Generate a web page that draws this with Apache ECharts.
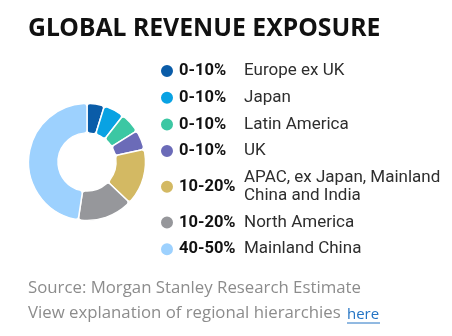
<!DOCTYPE html>
<html>
<head>
<meta charset="utf-8">
<script src="https://cdn.jsdelivr.net/npm/echarts@6/dist/echarts.min.js"></script>
<style>
  html, body { margin: 0; padding: 0; background: #fff; }
  #chart { width: 452px; height: 336px; }
</style>
</head>
<body>
<div id="chart"></div>
<script>
const regions = ["Europe ex UK", "Japan", "Latin America", "UK", "APAC, ex Japan, Mainland\nChina and India", "North America", "Mainland China"];
const ranges = ["0-10%", "0-10%", "0-10%", "0-10%", "10-20%", "10-20%", "40-50%"];
const shares = [4.8, 5.7, 5.6, 5.4, 15.6, 15.3, 47.6];
const colors = ["#0a5ca8", "#09a2e3", "#3cc7a3", "#6b6bb8", "#d3b963", "#96979b", "#9dd1fe"];

const chart = echarts.init(document.getElementById("chart"));

const pieData = regions.map((name, i) => ({
  name: name,
  value: shares[i],
  itemStyle: { color: colors[i] },
}));

const rowH = 18;
// the two-line label needs a taller percentage cell so both legends stay in step
const isTall = (name) => name.indexOf("\n") >= 0;
const pctLegendData = regions.map((name) => ({
  name: name,
  textStyle: { lineHeight: isTall(name) ? rowH * 2 : rowH },
}));

const option = {
  animation: false,
  graphic: [
    {
      type: "text",
      left: 28,
      top: 16,
      style: {
        text: "GLOBAL REVENUE EXPOSURE",
        font: "bold 24.8px 'Noto Sans'",
        fill: "#111",
      },
    },
    {
      type: "text",
      left: 28,
      top: 280,
      style: {
        text: "Source: Morgan Stanley Research Estimate",
        font: "16.8px 'Open Sans'",
        fill: "#8c8c8c",
      },
    },
    {
      type: "text",
      left: 28,
      top: 305,
      style: {
        text: "View explanation of regional hierarchies",
        font: "16.8px 'Open Sans'",
        fill: "#8c8c8c",
      },
    },
    {
      type: "text",
      left: 347,
      top: 307,
      style: {
        text: "here",
        font: "15px 'Open Sans'",
        fill: "#2474c4",
      },
    },
    {
      type: "line",
      shape: { x1: 347, y1: 323, x2: 380, y2: 323 },
      style: { stroke: "#2474c4", lineWidth: 1 },
    },
  ],
  legend: [
    {
      orient: "vertical",
      left: 159,
      top: 62,
      padding: 0,
      itemGap: 8.7,
      itemWidth: 14,
      itemHeight: 14,
      icon: "circle",
      selectedMode: false,
      data: pctLegendData,
      formatter: (name) => ranges[regions.indexOf(name)],
      textStyle: {
        fontFamily: "Roboto",
        fontWeight: "bold",
        fontSize: 16.5,
        lineHeight: rowH,
        color: "#111",
      },
    },
    {
      orient: "vertical",
      left: 238,
      top: 62,
      padding: 0,
      itemGap: 8.7,
      itemWidth: 1,
      itemHeight: 14,
      icon: "none",
      selectedMode: false,
      data: regions,
      textStyle: {
        fontFamily: "Roboto",
        fontSize: 17,
        lineHeight: rowH,
        color: "#2e2e2e",
      },
    },
  ],
  series: [
    {
      type: "pie",
      center: [87, 162],
      radius: [29, 58.5],
      startAngle: 90,
      clockwise: true,
      label: { show: false },
      labelLine: { show: false },
      emphasis: { disabled: true },
      itemStyle: {
        borderColor: "#fff",
        borderWidth: 1.5,
        borderRadius: 3,
      },
      data: pieData,
    },
  ],
};

chart.setOption(option);
</script>
</body>
</html>
